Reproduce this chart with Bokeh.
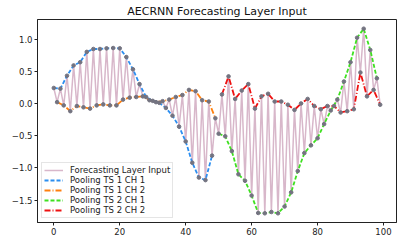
from bokeh.plotting import figure
from bokeh.embed import file_html
from bokeh.resources import INLINE
from bokeh.models import FixedTicker, CustomJSTickFormatter, Legend, LegendItem

# ---- data ----
ts1_ch1 = [0.24, 0.23, 0.43, 0.59, 0.64, 0.80, 0.845, 0.845, 0.855, 0.86, 0.855, 0.72,
           0.53, 0.30, 0.10, 0.04, 0.01, -0.07, -0.19, -0.36, -0.59, -0.92, -1.15, -1.19, -0.81]
ts1_ch2 = [0.02, -0.03, -0.12, -0.04, -0.06, -0.08, -0.03, -0.015, -0.03, -0.03, 0.06, 0.09,
           0.10, 0.11, 0.05, 0.02, 0.035, 0.06, 0.10, 0.13, 0.21, 0.19, 0.05, 0.03, -0.23]
ts2_ch1 = [-0.47, -0.51, -0.74, -1.10, -1.20, -1.43, -1.70, -1.705, -1.685, -1.705, -1.60, -1.38,
           -1.05, -0.77, -0.65, -0.54, -0.32, -0.11, 0.06, 0.34, 0.64, 1.02, 1.16, 0.83, 0.39]
ts2_ch2 = [0.14, 0.42, 0.07, 0.20, 0.30, -0.08, 0.11, 0.15, 0.03, 0.03, -0.02, -0.10,
           0.00, 0.07, -0.04, -0.09, -0.04, -0.04, -0.14, -0.12, -0.09, 0.48, 0.11, 0.21, -0.02]

x_ts1_ch1 = list(range(0, 50, 2))
x_ts1_ch2 = list(range(1, 50, 2))
x_ts2_ch1 = list(range(50, 100, 2))
x_ts2_ch2 = list(range(51, 100, 2))

x_ticks = [0, 20, 40, 60, 80, 100]
y_ticks = [-1.5, -1.0, -0.5, 0.0, 0.5, 1.0]

# forecasting layer input: the four pooled series interleaved in time order
pairs = sorted(zip(x_ts1_ch1 + x_ts1_ch2 + x_ts2_ch1 + x_ts2_ch2,
                   ts1_ch1 + ts1_ch2 + ts2_ch1 + ts2_ch2))
x_all = [a for a, b in pairs]
y_all = [b for a, b in pairs]

FONT = "DejaVu Sans"

p = figure(width=407, height=242, output_backend="svg", toolbar_location=None,
           x_range=(-4.95, 103.95), y_range=(-1.848, 1.303),
           min_border_left=37, min_border_right=11, min_border_top=19, min_border_bottom=20)

p.title.text = "AECRNN Forecasting Layer Input"
p.title.align = "center"
p.title.text_font = FONT
p.title.text_font_size = "11px"
p.title.text_font_style = "normal"
p.title.text_color = "#111111"
p.title.standoff = 3
p.title.offset = 0

p.xgrid.visible = False
p.ygrid.visible = False
p.outline_line_color = "#222222"
p.outline_line_width = 1

for ax in (p.xaxis[0], p.yaxis[0]):
    ax.axis_line_color = "#222222"
    ax.major_tick_line_color = "#222222"
    ax.major_tick_out = 3
    ax.major_tick_in = 0
    ax.minor_tick_line_color = None
    ax.major_label_text_font = FONT
    ax.major_label_text_font_size = "8.5px"
    ax.major_label_text_color = "#222222"
    ax.major_label_standoff = 2

p.xaxis.ticker = FixedTicker(ticks=x_ticks)
p.yaxis.ticker = FixedTicker(ticks=y_ticks)
p.xaxis.formatter = CustomJSTickFormatter(code="return tick.toFixed(0).replace('-', '\u2212');")
p.yaxis.formatter = CustomJSTickFormatter(code="return tick.toFixed(1).replace('-', '\u2212');")

r_in = p.line(x_all, y_all, line_color="#d8b7ca", line_width=1.5)
r1 = p.line(x_ts1_ch1, ts1_ch1, line_color="#2b8ef0", line_width=1.8, line_dash="4 2")
r2 = p.line(x_ts1_ch2, ts1_ch2, line_color="#ff7f0e", line_width=1.8, line_dash="6 2 1 2")
r3 = p.line(x_ts2_ch1, ts2_ch1, line_color="#3ee020", line_width=1.8, line_dash="4 2")
r4 = p.line(x_ts2_ch2, ts2_ch2, line_color="#ee1111", line_width=1.8, line_dash="6 2 1 2")
p.scatter(x_all, y_all, size=3.6, fill_color="#737380", line_color="#737380")

legend = Legend(items=[
    LegendItem(label="Forecasting Layer Input", renderers=[r_in]),
    LegendItem(label="Pooling TS 1 CH 1", renderers=[r1]),
    LegendItem(label="Pooling TS 1 CH 2", renderers=[r2]),
    LegendItem(label="Pooling TS 2 CH 1", renderers=[r3]),
    LegendItem(label="Pooling TS 2 CH 2", renderers=[r4]),
], location="bottom_left")
legend.label_text_font = FONT
legend.label_text_font_size = "8.5px"
legend.label_text_color = "#222222"
legend.label_height = 10
legend.glyph_height = 10
legend.glyph_width = 19
legend.label_standoff = 7
legend.spacing = 0
legend.padding = 2
legend.margin = 4
legend.border_line_color = "#cccccc"
legend.background_fill_alpha = 0.8
p.add_layout(legend)

open("out.html", "w").write(file_html(p, INLINE))
